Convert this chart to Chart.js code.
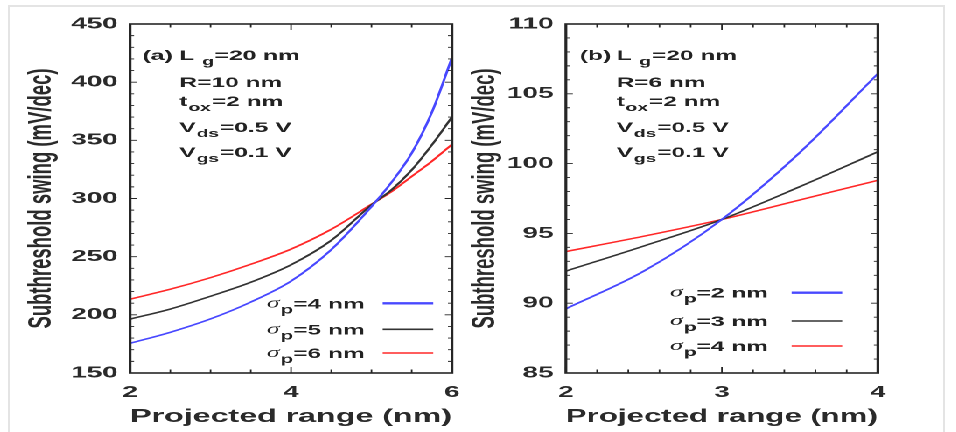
<!DOCTYPE html>
<html>
<head>
<meta charset="utf-8">
<title>Subthreshold swing vs projected range</title>
<script src="https://cdn.jsdelivr.net/npm/chart.js@4.4.1/dist/chart.umd.min.js"></script>
<style>
html, body { margin: 0; padding: 0; background: #fff; }
body { width: 956px; height: 432px; overflow: hidden; position: relative; }
#frame { position: absolute; left: 8px; top: 5px; width: 937px; height: 450px; border: 2px solid #e4e4e4; box-sizing: border-box; }
/* the source figure is stretched sideways, so the whole stage is too */
#stage { position: absolute; left: 0; top: 0; width: 546px; height: 432px; transform: scaleX(1.75); transform-origin: 0 0; }
#stage canvas { position: absolute; top: 0; }
</style>
</head>
<body>
<div id="frame"></div>
<div id="stage">
  <canvas id="chartA" width="280" height="432" style="left:0px"></canvas>
  <canvas id="chartB" width="284" height="432" style="left:262px"></canvas>
</div>
<script>
"use strict";

// panel (a): R = 10 nm
var xA = [2, 2.5, 3, 3.5, 4, 4.5, 5, 5.25, 5.5, 5.75, 6];
var sigma4A = [175.5, 185, 196.5, 211, 229, 256, 293, 314, 339, 374, 421];
var sigma5A = [196.3, 205, 216, 228, 243, 264, 294.5, 307.5, 324.5, 346, 370];
var sigma6A = [213.5, 222, 232, 243.5, 256.5, 273.5, 295, 306, 319, 332, 346.5];
var sigmaNamesA = ['4', '5', '6'];
var yTicksA = [150, 200, 250, 300, 350, 400, 450];
var xTicksA = [2, 4, 6];
var notesA = ['L |g|=20 nm', 'R=10 nm', 't|ox|=2 nm', 'V|ds|=0.5 V', 'V|gs|=0.1 V'];

// panel (b): R = 6 nm
var xB = [2, 2.5, 3, 3.5, 4];
var sigma2B = [89.6, 92.3, 96.0, 100.8, 106.45];
var sigma3B = [92.3, 94.1, 96.0, 98.35, 100.85];
var sigma4B = [93.7, 94.8, 96.0, 97.4, 98.8];
var sigmaNamesB = ['2', '3', '4'];
var yTicksB = [85, 90, 95, 100, 105, 110];
var xTicksB = [2, 3, 4];
var notesB = ['L |g|=20 nm', 'R=6 nm', 't|ox|=2 nm', 'V|ds|=0.5 V', 'V|gs|=0.1 V'];

var xTitle = 'Projected range (nm)';
var yTitle = 'Subthreshold swing (mV/dec)';

var FAMILY = '"Liberation Sans", Arial, sans-serif';
var BLUE = 'rgb(72,72,255)';
var BLACK = '#333333';
var RED = 'rgb(255,40,40)';

function points(xs, ys) {
    return xs.map(function (x, i) { return { x: x, y: ys[i] }; });
}

function drawSubText(ctx, x, y, text) {
    var parts = text.split('|');
    ctx.font = 'bold 14px ' + FAMILY;
    ctx.fillText(parts[0], x, y);
    x += ctx.measureText(parts[0]).width;
    if (parts.length > 1) {
        ctx.font = 'bold 11px ' + FAMILY;
        ctx.fillText(parts[1], x + 0.5, y + 5);
        x += ctx.measureText(parts[1]).width + 1;
        ctx.font = 'bold 14px ' + FAMILY;
        ctx.fillText(parts[2], x, y);
    }
}

// frame, inward ticks, parameter notes and the legend
var panelPlugin = {
    id: 'panel',
    afterDraw: function (chart) {
        var p = chart.options.plugins.panel;
        var ctx = chart.ctx, a = chart.chartArea;
        var xs = chart.scales.x, ys = chart.scales.y;
        ctx.save();
        ctx.strokeStyle = '#262626';
        ctx.lineWidth = 0.9;
        ctx.beginPath();
        var n, v, px, len, major;
        n = Math.round((xs.max - xs.min) / p.xMinor);
        for (var i = 0; i <= n; i++) {
            v = xs.min + i * p.xMinor;
            px = xs.getPixelForValue(v);
            major = Math.abs(v / p.xMajor - Math.round(v / p.xMajor)) < 1e-6;
            len = major ? 6 : 3.5;
            ctx.moveTo(px, a.bottom); ctx.lineTo(px, a.bottom - len);
            ctx.moveTo(px, a.top); ctx.lineTo(px, a.top + len);
        }
        n = Math.round((ys.max - ys.min) / p.yMinor);
        for (var j = 0; j <= n; j++) {
            v = ys.min + j * p.yMinor;
            px = ys.getPixelForValue(v);
            major = Math.abs(v / p.yMajor - Math.round(v / p.yMajor)) < 1e-6;
            len = major ? 4 : 2.3;
            ctx.moveTo(a.left, px); ctx.lineTo(a.left + len, px);
            ctx.moveTo(a.right, px); ctx.lineTo(a.right - len, px);
        }
        ctx.stroke();
        ctx.lineWidth = 1.6;
        ctx.strokeRect(a.left, a.top, a.right - a.left, a.bottom - a.top);

        // notes
        ctx.fillStyle = '#222';
        ctx.textBaseline = 'alphabetic';
        ctx.textAlign = 'left';
        ctx.font = 'bold 14px ' + FAMILY;
        ctx.fillText(p.tag, p.tagX, p.noteY[0]);
        p.notes.forEach(function (t, k) { drawSubText(ctx, p.noteX, p.noteY[k], t); });

        // legend: text on the left, line sample on the right
        chart.data.datasets.forEach(function (ds, k) {
            var ly = p.legendY[k];
            var x = p.legendX;
            ctx.fillStyle = '#222';
            ctx.font = 'italic 15px "Liberation Serif", "Times New Roman", serif';
            ctx.fillText('\u03c3', x, ly + 4);
            x += ctx.measureText('\u03c3').width + 0.5;
            ctx.font = 'bold 12px ' + FAMILY;
            ctx.fillText('p', x, ly + 10);
            x += ctx.measureText('p').width;
            ctx.font = 'bold 14px ' + FAMILY;
            ctx.fillText('=' + p.names[k] + ' nm', x, ly + 5);
            ctx.strokeStyle = ds.borderColor;
            ctx.lineWidth = k === 0 ? 2.4 : 1.6;
            ctx.beginPath();
            ctx.moveTo(p.lineX[0], ly);
            ctx.lineTo(p.lineX[1], ly);
            ctx.stroke();
        });
        ctx.restore();
    }
};

function makePanel(id, xs, sets, xr, yr, xTicks, yTicks, layout, panel) {
    var colors = [BLUE, BLACK, RED];
    return new Chart(document.getElementById(id), {
        type: 'line',
        data: {
            datasets: sets.map(function (s, k) {
                return {
                    label: 'sigma_p=' + panel.names[k] + ' nm',
                    data: points(xs, s),
                    borderColor: colors[k],
                    borderWidth: 1.5,
                    pointRadius: 0,
                    cubicInterpolationMode: 'monotone',
                    fill: false
                };
            })
        },
        options: {
            responsive: false,
            animation: false,
            devicePixelRatio: 2,
            layout: { padding: { left: 0, top: 24, right: layout.right, bottom: 0 } },
            plugins: {
                legend: { display: false },
                tooltip: { enabled: false },
                panel: panel
            },
            scales: {
                x: {
                    type: 'linear',
                    min: xr[0], max: xr[1],
                    afterBuildTicks: function (s) { s.ticks = xTicks.map(function (v) { return { value: v }; }); },
                    afterFit: function (s) { s.height = 59; },
                    grid: { display: false, drawTicks: false },
                    border: { display: false },
                    ticks: { padding: 10, color: '#2a2a2a', font: { family: FAMILY, size: 16, weight: 'bold' } },
                    title: { display: true, text: xTitle, color: '#2a2a2a', padding: { top: 0, bottom: 4 },
                             font: { family: FAMILY, size: 18.5, weight: 'bold' } }
                },
                y: {
                    type: 'linear',
                    min: yr[0], max: yr[1],
                    afterBuildTicks: function (s) { s.ticks = yTicks.map(function (v) { return { value: v }; }); },
                    afterFit: function (s) { s.width = layout.yWidth; },
                    grid: { display: false, drawTicks: false },
                    border: { display: false },
                    ticks: { padding: 7, color: '#2a2a2a', font: { family: FAMILY, size: 16, weight: 'bold' } },
                    title: { display: true, text: yTitle, color: '#2a2a2a', padding: { top: layout.yTitlePad, bottom: 0 },
                             font: { family: FAMILY, size: 18.5, weight: 'bold' } }
                }
            }
        },
        plugins: [panelPlugin]
    });
}

makePanel('chartA', xA, [sigma4A, sigma5A, sigma6A], [2, 6], [150, 450], xTicksA, yTicksA,
    { right: 21.7, yWidth: 74.3, yTitlePad: 13 },
    { xMinor: 0.5, xMajor: 2, yMinor: 10, yMajor: 50,
      tag: '(a)', tagX: 81.5, noteX: 102.5, noteY: [60, 87, 106, 132, 157], notes: notesA,
      names: sigmaNamesA, legendX: 152.4, legendY: [303.3, 329.3, 353], lineX: [218.7, 247.6] });

makePanel('chartB', xB, [sigma2B, sigma3B, sigma4B], [2, 4], [85, 110], xTicksB, yTicksB,
    { right: 44.3, yWidth: 61.4, yTitlePad: 4.5 },
    { xMinor: 0.2, xMajor: 1, yMinor: 1, yMajor: 5,
      tag: '(b)', tagX: 69.4, noteX: 90.4, noteY: [60, 87, 106, 132, 157], notes: notesB,
      names: sigmaNamesB, legendX: 120.9, legendY: [292.7, 321, 346], lineX: [190.4, 219.3] });
</script>
</body>
</html>
